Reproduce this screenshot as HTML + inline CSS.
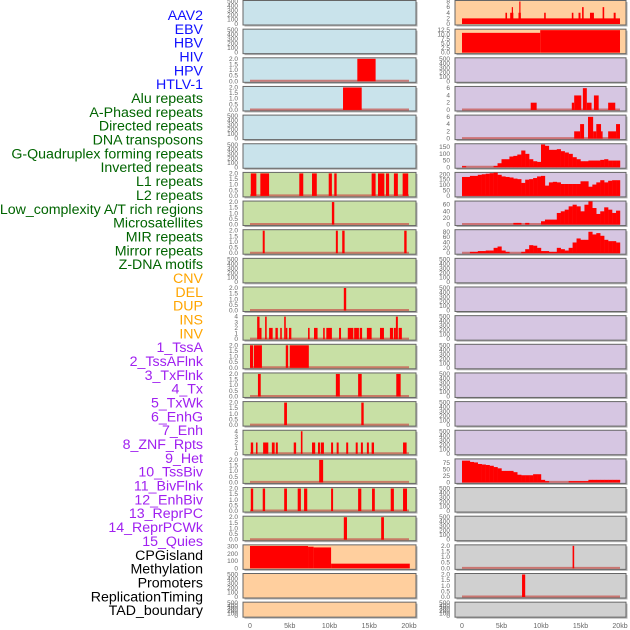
<!DOCTYPE html>
<html><head><meta charset="utf-8">
<style>
html,body{margin:0;padding:0;background:#fff;width:630px;height:630px;overflow:hidden}
svg{display:block}
</style></head>
<body>
<svg id="chart" width="630" height="630" xmlns="http://www.w3.org/2000/svg"></svg>
<script>
// ---------- labels ----------
const trackLabels = ["AAV2","EBV","HBV","HIV","HPV","HTLV-1","Alu repeats","A-Phased repeats","Directed repeats","DNA transposons","G-Quadruplex forming repeats","Inverted repeats","L1 repeats","L2 repeats","Low_complexity A/T rich regions","Microsatellites","MIR repeats","Mirror repeats","Z-DNA motifs","CNV","DEL","DUP","INS","INV","1_TssA","2_TssAFlnk","3_TxFlnk","4_Tx","5_TxWk","6_EnhG","7_Enh","8_ZNF_Rpts","9_Het","10_TssBiv","11_BivFlnk","12_EnhBiv","13_ReprPC","14_ReprPCWk","15_Quies","CPGisland","Methylation","Promoters","ReplicationTiming","TAD_boundary"];
const labelGroupSizes = [6,13,5,15,5];
const labelGroupColors = ["#1010ff","#006400","#ffa500","#a020f0","#000000"];
const bgColors = {virus:"#c9e3eb",repeat:"#c8e0a5",sv:"#ffcf9e",chrom:"#d6c6e2",other:"#d0d0d0"};

// ---------- tick sets ----------
const ticks500 = [0,100,200,300,400,500];
const ticks2 = [0,0.5,1,1.5,2];
const ticks2Labels = ["0.0","0.5","1.0","1.5","2.0"];
const ticks4 = [0,1,2,3,4];
const ticksCNV = [0,100,200,300];
const ticksINS = [0,2,4,6,8];
const ticksINV = [0,2.5,5,7.5,10,12.5];
const ticksINVLabels = ["0.0","2.5","5.0","7.5","10.0","12.5"];
const ticks6 = [0,2,4,6];
const ticksTx = [0,50,100,150];
const ticksTxWk = [0,50,100,150,200];
const ticksEnhG = [0,20,40,60];
const ticksEnh = [0,20,40,60,80];
const ticksQuies = [0,25,50,75];
const xTicks = [0,5,10,15,20];
const xTickLabels = ["0","5kb","10kb","15kb","20kb"];

// ---------- segment data [startKb, endKb, value] ----------
const hbvSegs = [[13.5,15.8,2]];
const hivSegs = [[11.7,14.05,2]];
const aluSegs = [[0.1,0.8,2],[1.3,2.4,2],[6.2,6.7,2],[7.8,8.4,2],[9.9,10.3,2],[10.6,10.9,2],[15.3,15.8,2],[16.1,16.9,2],[17.1,17.5,2],[18.1,18.6,2],[19.2,19.9,2]];
const aPhasedSegs = [[10.3,10.6,2]];
const directedSegs = [[1.6,1.85,2],[10.8,11.05,2],[11.6,11.9,2],[19.4,19.7,2]];
const gQuadSegs = [[11.8,12.1,2]];
const invertedSegs = [[0.9,1.2,4],[1.2,1.45,2],[1.9,2.1,4],[2.4,2.85,2],[3.2,3.5,2],[3.8,4.0,2],[4.3,4.5,4],[4.5,4.7,2],[4.9,5.2,2],[7.3,7.5,2],[8.05,8.5,2],[9.2,9.4,2],[9.6,10.3,2],[11.2,11.45,2],[12.3,13.0,2],[13.1,13.7,2],[13.8,14.1,2],[14.7,15.3,2],[16.35,16.85,2],[17.6,18.0,2],[18.1,18.35,2],[18.35,18.6,4],[18.7,19.1,2]];
const l1Segs = [[0,0.4,2],[0.5,1.5,2],[4.5,4.8,2],[5.0,7.4,2]];
const l2Segs = [[1.0,1.35,2],[10.8,11.3,2],[13.6,14.05,2],[18.4,18.95,2]];
const lowCompSegs = [[4.3,4.65,2],[14.0,14.3,2]];
const microSegs = [[0.1,0.4,2],[0.75,0.95,2],[1.65,2.3,2],[2.75,3.1,2],[3.25,3.5,2],[5.5,5.8,2],[6.4,6.6,4],[7.8,8.2,2],[8.55,8.8,2],[8.9,9.3,2],[10.2,10.45,2],[10.9,11.15,2],[12.1,12.35,2],[13.3,13.55,2],[13.95,14.2,2],[14.7,14.95,2],[15.3,15.6,2],[19.25,19.7,2]];
const mirSegs = [[8.7,9.2,2]];
const mirrorSegs = [[0.1,0.4,2],[1.6,1.9,2],[4.3,4.65,2],[6.0,6.4,2],[6.8,7.2,2],[10.2,10.45,2],[13.6,14.0,2],[15.35,15.7,2],[17.7,18.1,2],[19.25,19.75,2]];
const zdnaSegs = [[11.8,12.2,2],[16.5,16.85,2]];
const cnvSegs = [[0,7.3,310],[7.3,8.0,300],[8.0,10.2,290],[10.2,20.1,65]];
const insSegs = [[0,20,2],[5.5,5.7,4],[6.1,6.5,4],[6.3,6.45,6],[7.15,7.45,4],[7.25,7.4,8],[10.4,10.6,4],[13.9,14.1,4],[14.75,15.0,4],[15.2,15.4,6],[16.2,16.7,4],[17.8,18.0,6],[19.2,19.45,4]];
const invSegs = [[0,9.9,11],[9.9,20,12.5]];
const tssAFlnkSegs = [[8.7,9.45,2],[13.9,14.2,2],[14.2,15.1,4],[15.3,15.8,6],[15.8,16.4,2],[16.7,17.3,4],[18.5,19.4,2]];
const txFlnkSegs = [[14.2,14.95,2],[14.95,15.45,4],[15.95,16.6,6],[16.6,17.0,2],[17.0,17.6,4],[17.6,17.8,2],[18.5,19.5,2],[19.5,20,4]];
const promoterSegs = [[14.0,14.2,2]];
const replSegs = [[7.6,8.0,2]];

// ---------- histogram data (0.5 kb bins, 0-20kb) ----------
const txBins = [8,0,0,0,0,0,0,0,10,30,60,60,80,85,95,125,100,60,45,40,170,160,130,130,135,120,110,100,75,60,45,45,50,50,50,55,60,50,50,50];
const txWkBins = [175,175,185,185,195,200,205,210,215,195,180,175,170,160,155,120,150,155,165,180,185,95,125,130,125,110,110,110,110,110,135,135,85,105,125,145,125,140,145,145];
const enhGBins = [0,0,0,0,0,0,0,0,0,0,0,0,0,5,5,0,5,0,0,0,10,15,15,15,35,40,45,55,60,55,40,60,70,50,32,40,52,45,35,42];
const enhBins = [0,0,5,5,8,8,10,10,20,25,10,5,0,0,0,5,15,30,28,20,8,8,5,5,20,15,10,20,40,55,50,50,80,70,75,65,50,45,45,40];
const quiesBins = [85,85,80,78,72,70,68,65,60,55,45,45,45,40,30,28,28,28,32,32,10,5,0,0,0,0,0,5,5,5,5,5,10,10,10,10,10,10,10,10];

const V=bgColors.virus,R=bgColors.repeat,S=bgColors.sv,C=bgColors.chrom,O=bgColors.other;
const leftPanels = [
 {bg:V,ticks:ticks500,ymax:500},{bg:V,ticks:ticks500,ymax:500},
 {bg:V,ticks:ticks2,tl:ticks2Labels,ymax:2,segs:hbvSegs},
 {bg:V,ticks:ticks2,tl:ticks2Labels,ymax:2,segs:hivSegs},
 {bg:V,ticks:ticks500,ymax:500},{bg:V,ticks:ticks500,ymax:500},
 {bg:R,ticks:ticks2,tl:ticks2Labels,ymax:2,segs:aluSegs},
 {bg:R,ticks:ticks2,tl:ticks2Labels,ymax:2,segs:aPhasedSegs},
 {bg:R,ticks:ticks2,tl:ticks2Labels,ymax:2,segs:directedSegs},
 {bg:R,ticks:ticks500,ymax:500},
 {bg:R,ticks:ticks2,tl:ticks2Labels,ymax:2,segs:gQuadSegs},
 {bg:R,ticks:ticks4,ymax:4,segs:invertedSegs},
 {bg:R,ticks:ticks2,tl:ticks2Labels,ymax:2,segs:l1Segs},
 {bg:R,ticks:ticks2,tl:ticks2Labels,ymax:2,segs:l2Segs},
 {bg:R,ticks:ticks2,tl:ticks2Labels,ymax:2,segs:lowCompSegs},
 {bg:R,ticks:ticks4,ymax:4,segs:microSegs},
 {bg:R,ticks:ticks2,tl:ticks2Labels,ymax:2,segs:mirSegs},
 {bg:R,ticks:ticks2,tl:ticks2Labels,ymax:2,segs:mirrorSegs},
 {bg:R,ticks:ticks2,tl:ticks2Labels,ymax:2,segs:zdnaSegs},
 {bg:S,ticks:ticksCNV,ymax:312,segs:cnvSegs,nobase:true},
 {bg:S,ticks:ticks500,ymax:500},{bg:S,ticks:ticks500,ymax:500}
];
const rightPanels = [
 {bg:S,ticks:ticksINS,ymax:8,segs:insSegs,nobase:true},
 {bg:S,ticks:ticksINV,tl:ticksINVLabels,ymax:12.5,segs:invSegs,nobase:true},
 {bg:C,ticks:ticks500,ymax:500},
 {bg:C,ticks:ticks6,ymax:6.2,segs:tssAFlnkSegs},
 {bg:C,ticks:ticks6,ymax:6.2,segs:txFlnkSegs},
 {bg:C,ticks:ticksTx,ymax:168,bins:txBins},
 {bg:C,ticks:ticksTxWk,ymax:208,bins:txWkBins},
 {bg:C,ticks:ticksEnhG,ymax:68,bins:enhGBins},
 {bg:C,ticks:ticksEnh,ymax:84,bins:enhBins},
 {bg:C,ticks:ticks500,ymax:500},{bg:C,ticks:ticks500,ymax:500},{bg:C,ticks:ticks500,ymax:500},
 {bg:C,ticks:ticks500,ymax:500},{bg:C,ticks:ticks500,ymax:500},{bg:C,ticks:ticks500,ymax:500},
 {bg:C,ticks:ticks500,ymax:500},
 {bg:C,ticks:ticksQuies,ymax:88,bins:quiesBins},
 {bg:O,ticks:ticks500,ymax:500},{bg:O,ticks:ticks500,ymax:500},
 {bg:O,ticks:ticks2,tl:ticks2Labels,ymax:2,segs:promoterSegs},
 {bg:O,ticks:ticks2,tl:ticks2Labels,ymax:2,segs:replSegs},
 {bg:O,ticks:ticks500,ymax:500}
];

const NS="http://www.w3.org/2000/svg";
const svg=document.getElementById('chart');
function mk(tag,attrs,parent){const e=document.createElementNS(NS,tag);for(const k in attrs)e.setAttribute(k,attrs[k]);(parent||svg).appendChild(e);return e;}

// labels
let li=0;
labelGroupSizes.forEach((n,g)=>{for(let k=0;k<n;k++){
 const t=mk('text',{x:203,y:20+li*13.84,'text-anchor':'end','font-size':'14.2','font-family':'Liberation Sans, sans-serif',fill:labelGroupColors[g]});
 t.textContent=trackLabels[li];
 
 
 li++;}});

const cols=[{px0:243,px1:416,x0:250,x20:409,tickX:238,panels:leftPanels,name:'left'},
            {px0:455,px1:626,x0:462,x20:620,tickX:450,panels:rightPanels,name:'right'}];
function rowTop(r){return 0.5+r*28.65;}
function rowH(r){return r===21?15:24.5;}

cols.forEach(col=>{
 const xs=kb=>col.x0+(col.x20-col.x0)*kb/20;
 col.panels.forEach((p,r)=>{
  const top=rowTop(r),h=rowH(r);
  const g=mk('g',{});
  
  
  mk('rect',{x:col.px0+1.5,y:top+1.5,width:col.px1-col.px0,height:h,fill:'#b0b0b0'},g);
  mk('rect',{x:col.px0,y:top,width:col.px1-col.px0,height:h,fill:p.bg,stroke:'#666',"stroke-width":1},g);
  const ys=v=>top+h-1-v/p.ymax*(h-2);
  if(p.segs||p.bins){
   if(!p.nobase) mk('line',{x1:xs(0),x2:xs(20),y1:ys(0)-0.5,y2:ys(0)-0.5,stroke:'#c8504a','stroke-width':2,opacity:0.7},g);
   (p.segs||[]).forEach(s=>{
    const b=mk('rect',{x:xs(s[0]),y:ys(s[2]),width:Math.max(xs(s[1])-xs(s[0]),1.2),height:ys(0)-ys(s[2]),fill:'#ff0000'},g);
    
    
   });
   (p.bins||[]).forEach((v,i)=>{
    if(v<=0)return;
    const b=mk('rect',{x:xs(i*0.5),y:ys(v),width:xs(0.5)-xs(0)+0.2,height:ys(0)-ys(v),fill:'#ff0000'},g);
    
    
   });
  }
  p.ticks.forEach((tv,i)=>{
   const t=mk('text',{x:col.tickX,y:ys(tv)+2,'text-anchor':'end','font-size':'6.5','font-family':'Liberation Sans, sans-serif',fill:'#666'},g);
   t.textContent=p.tl?p.tl[i]:String(tv);
   
   
  });
 });
 xTicks.forEach((kb,i)=>{
  const t=mk('text',{x:xs(kb),y:628,'text-anchor':'middle','font-size':'7','font-family':'Liberation Sans, sans-serif',fill:'#666'});
  t.textContent=xTickLabels[i];
  
  
 });
});
</script>
</body></html>
